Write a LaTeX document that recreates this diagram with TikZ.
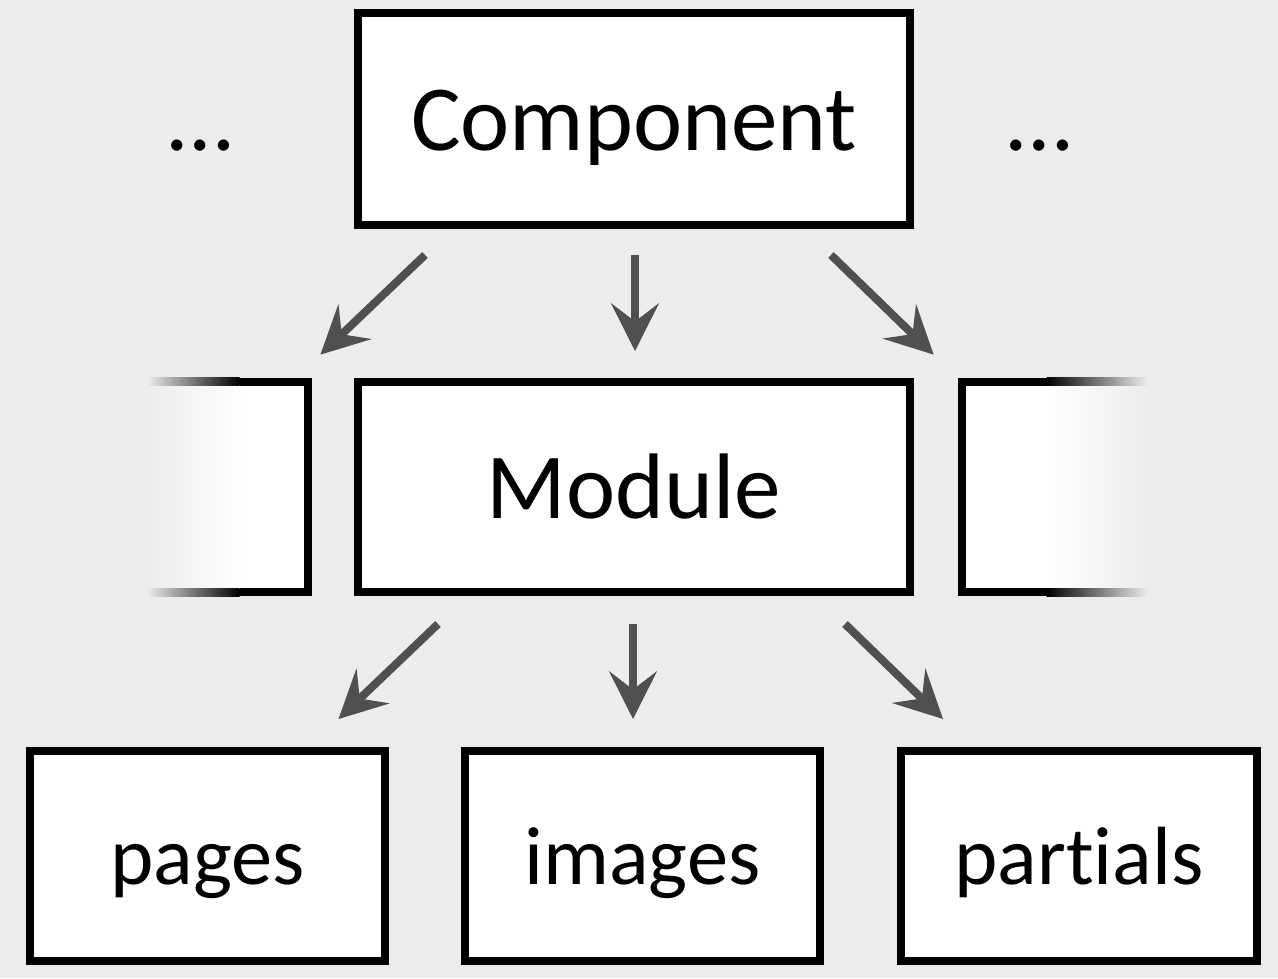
\documentclass[tikz,border=0pt]{standalone}
\usepackage{fontspec}
\setmainfont{Carlito}[Ligatures=NoCommon]
\usetikzlibrary{arrows.meta,calc}
\definecolor{bggray}{HTML}{ECECEC}
\definecolor{arrowgray}{HTML}{505050}

\begin{document}
\begin{tikzpicture}[x=0.02cm,y=-0.02cm,
  box/.style={draw=black,fill=white,line width=0.16cm,inner sep=0pt},
  bigbox/.style={box,minimum width=11.04cm,font=\fontsize{53}{60}\selectfont,text height=40pt,text depth=4.7pt},
  smallbox/.style={box,minimum width=7.12cm,minimum height=4.2cm,font=\fontsize{47}{54}\selectfont,text height=36pt,text depth=3.1pt},
  sidebox/.style={minimum height=4.2cm,inner sep=0pt},
  arr/.style={draw=arrowgray,line width=0.16cm,-{Stealth[length=0.95cm,width=0.95cm,inset=0.36cm]}}
]

% Hintergrund
\fill[bggray] (0,0) rectangle (1278,978);
\useasboundingbox (0,0) rectangle (1278,978);

% Component
\node[bigbox,minimum height=4.24cm] (comp) at (634,119) {Component};
\node[font=\fontsize{53}{60}\selectfont,anchor=base] (ldots) at (201,150) {…};
\node[font=\fontsize{53}{60}\selectfont,anchor=base] (rdots) at (1040,150) {…};

% Module
\node[bigbox,minimum height=4.2cm] (mod) at (634,487) {Module};
\node[sidebox,minimum width=3.21cm] (lside) at (227.25,487) {};
\node[sidebox,minimum width=3.69cm] (rside) at (1054.75,487) {};

% linke Box, nach links ausgeblendet
\shade[left color=bggray,right color=white] (lside.north west) rectangle ($(lside.south west)+(96,0)$);
\fill[white] ($(lside.north west)+(96,0)$) rectangle (lside.south east);
\shade[left color=bggray,right color=black] ($(lside.north west)+(0,-4)$) rectangle ($(lside.north west)+(93,4)$);
\fill ($(lside.north west)+(93,-4)$) rectangle ($(lside.north east)+(4,4)$);
\shade[left color=bggray,right color=black] ($(lside.south west)+(0,-4)$) rectangle ($(lside.south west)+(93,4)$);
\fill ($(lside.south west)+(93,-4)$) rectangle ($(lside.south east)+(4,4)$);
\fill ($(lside.north east)+(-4,-4)$) rectangle ($(lside.south east)+(4,4)$);

% rechte Box, nach rechts ausgeblendet
\fill[white] (rside.north west) rectangle ($(rside.south west)+(84.5,0)$);
\shade[left color=white,right color=bggray] ($(rside.north west)+(84.5,0)$) rectangle (rside.south east);
\fill ($(rside.north west)+(-4,-4)$) rectangle ($(rside.north west)+(84.5,4)$);
\shade[left color=black,right color=bggray] ($(rside.north west)+(84.5,-4)$) rectangle ($(rside.north east)+(0,4)$);
\fill ($(rside.south west)+(-4,-4)$) rectangle ($(rside.south west)+(84.5,4)$);
\shade[left color=black,right color=bggray] ($(rside.south west)+(84.5,-4)$) rectangle ($(rside.south east)+(0,4)$);
\fill ($(rside.north west)+(-4,-4)$) rectangle ($(rside.south west)+(4,4)$);

% Ordner
\node[smallbox] (pages) at (207.5,856) {pages};
\node[smallbox] (images) at (642.5,856) {images};
\node[smallbox] (partials) at (1079,856) {partials};

% Pfeile
\draw[arr] ($(comp.south)+(-209,26)$) -- ($(lside.north east)+(12.5,-27)$);
\draw[arr] ($(comp.south)+(1,26)$) -- ($(mod.north)+(1,-27)$);
\draw[arr] ($(comp.south)+(197,26)$) -- ($(rside.north west)+(-28.5,-27)$);

\draw[arr] ($(mod.south)+(-196,28)$) -- ($(pages.north east)+(-51,-28)$);
\draw[arr] ($(mod.south)+(-1,28)$) -- ($(images.north)+(-9.5,-28)$);
\draw[arr] ($(mod.south)+(211,28)$) -- ($(partials.north west)+(46,-28)$);

\end{tikzpicture}
\end{document}
